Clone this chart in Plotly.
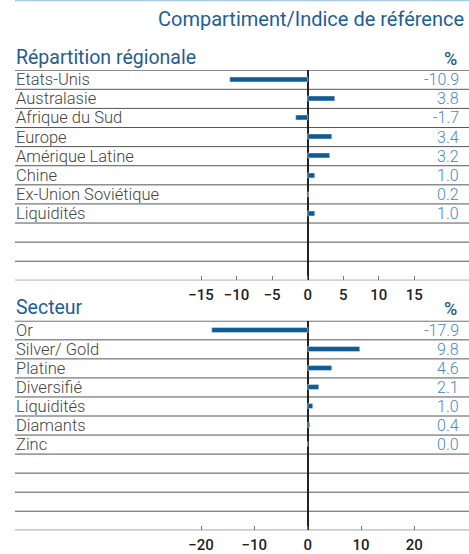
import plotly.graph_objects as go

# ---- data ----
regions = ["Etats-Unis", "Australasie", "Afrique du Sud", "Europe",
           "Amérique Latine", "Chine", "Ex-Union Soviétique", "Liquidités"]
region_values = [-10.9, 3.8, -1.7, 3.4, 3.2, 1.0, 0.2, 1.0]
region_ticks = [-15, -10, -5, 0, 5, 10, 15]

sectors = ["Or", "Silver/ Gold", "Platine", "Diversifié", "Liquidités",
           "Diamants", "Zinc"]
sector_values = [-17.9, 9.8, 4.6, 2.1, 1.0, 0.4, 0.0]
sector_ticks = [-20, -10, 0, 10, 20]

title_text = "Compartiment/Indice de référence"
panel1_title = "Répartition régionale"
panel2_title = "Secteur"
unit_label = "%"

# ---- style ----
W, H = 469, 554
BAR = "#0f5b93"
TITLE = "#1f5e93"
VAL = "#4a88c0"
LBL = "#444444"
LINE = "#555555"
FONT = "Roboto"
N_ROWS = 11
LEFT = 15

def py(px):
    return 1 - px / H

def x_range(zero_px, px_per_unit):
    return [(LEFT - zero_px) / px_per_unit, (W - zero_px) / px_per_unit]

fig = go.Figure()

panels = [
    dict(cats=regions, vals=region_values, ticks=region_ticks, top=71.5, bottom=285.5,
         ppu=7.11, xa="x", ya="y", title=panel1_title, title_y=59),
    dict(cats=sectors, vals=sector_values, ticks=sector_ticks, top=326.7, bottom=540,
         ppu=5.333, xa="x2", ya="y2", title=panel2_title, title_y=313),
]

annotations = [dict(text=title_text, x=466 / W, y=py(19), xref="paper", yref="paper",
                    xanchor="right", yanchor="middle", showarrow=False,
                    font=dict(family=FONT, size=20, color=TITLE, weight=400))]
shapes = [dict(type="line", xref="paper", yref="paper", x0=LEFT / W, x1=1,
               y0=py(0.5), y1=py(0.5), line=dict(color="#a9c9e2", width=1.5))]

for i, p in enumerate(panels):
    suffix = "" if i == 0 else str(i + 1)
    fig.add_trace(go.Bar(
        x=p["vals"], y=p["cats"], orientation="h", marker_color=BAR,
        width=0.26, xaxis=p["xa"], yaxis=p["ya"], hoverinfo="skip"))
    dom = [py(p["bottom"]), py(p["top"])]
    fig.update_layout({
        "xaxis" + suffix: dict(
            domain=[LEFT / W, 1], range=x_range(307.7, p["ppu"]),
            tickvals=p["ticks"], ticks="inside", ticklen=4, tickcolor="#777",
            showgrid=False, zeroline=True, zerolinecolor="#222", zerolinewidth=2,
            showline=False, anchor=p["ya"], ticklabelstandoff=4,
            tickfont=dict(family=FONT, size=15, color="#222", weight=500)),
        "yaxis" + suffix: dict(
            domain=dom, type="category", categoryorder="array",
            categoryarray=p["cats"], range=[N_ROWS - 0.5, -0.5],
            showticklabels=False, showgrid=False, zeroline=False, anchor=p["xa"]),
    })
    # row separator lines
    for k in range(N_ROWS + 1):
        shapes.append(dict(type="line", xref="paper", yref=p["ya"],
                           x0=LEFT / W, x1=1, y0=k - 0.5, y1=k - 0.5,
                           line=dict(color="#333" if k in (0, N_ROWS) else LINE,
                                     width=1.3 if k == 0 else 1), layer="below"))
    # section title and %
    annotations.append(dict(text=p["title"], x=LEFT / W - 0.002, y=py(p["title_y"]),
                            xref="paper", yref="paper", xanchor="left", yanchor="middle",
                            showarrow=False,
                            font=dict(family=FONT, size=19.5, color=TITLE, weight=400)))
    annotations.append(dict(text=unit_label, x=459 / W, y=py(p["title_y"] + 1),
                            xref="paper", yref="paper", xanchor="right", yanchor="middle",
                            showarrow=False,
                            font=dict(family=FONT, size=18, color=TITLE, weight=500)))
    for c, v in zip(p["cats"], p["vals"]):
        annotations.append(dict(text=c, x=LEFT / W - 0.002, y=c, xref="paper", yref=p["ya"],
                                xanchor="left", yanchor="middle", showarrow=False,
                                font=dict(family=FONT, size=16.5, color=LBL, weight=300)))
        annotations.append(dict(text=f"{v:.1f}", x=461 / W, y=c, xref="paper", yref=p["ya"],
                                xanchor="right", yanchor="middle", showarrow=False,
                                font=dict(family=FONT, size=16, color=VAL, weight=300)))

fig.update_layout(
    width=W, height=H, margin=dict(l=0, r=0, t=0, b=0),
    paper_bgcolor="white", plot_bgcolor="white", showlegend=False,
    annotations=annotations, shapes=shapes, bargap=0,
)

fig.write_html(
    "out.html",
    config={"displayModeBar": False},
    post_script="document.body.style.margin='0';document.body.style.overflow='hidden';",
)
